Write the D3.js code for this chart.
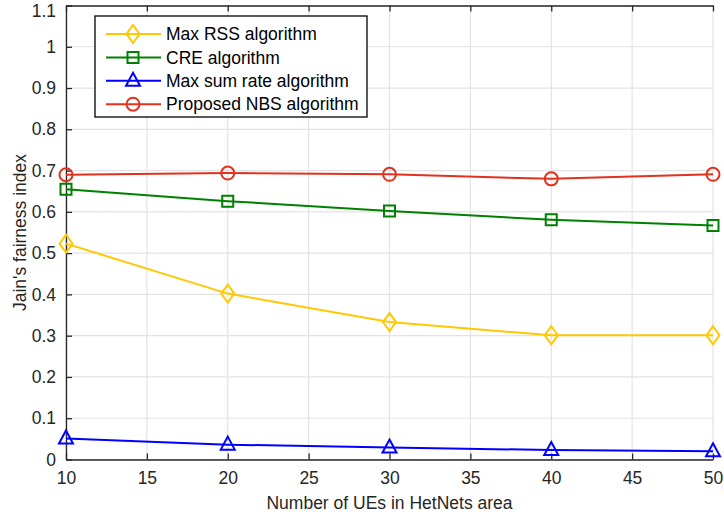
<!DOCTYPE html>
<html>
<head>
<meta charset="utf-8">
<script src="https://cdn.jsdelivr.net/npm/d3@7"></script>
<style>
  html, body { margin: 0; padding: 0; background: #fff; }
  svg { display: block; font-family: "Liberation Sans", Arial, Helvetica, sans-serif; }
</style>
</head>
<body>
<svg id="chart" width="724" height="521"></svg>
<script>
// Jain's fairness index versus number of UEs
const ues = [10, 20, 30, 40, 50];
const maxRss = [0.523, 0.402, 0.333, 0.301, 0.301];
const cre = [0.655, 0.626, 0.602, 0.581, 0.567];
const maxSumRate = [0.051, 0.036, 0.029, 0.023, 0.020];
const proposedNbs = [0.690, 0.694, 0.691, 0.680, 0.691];

const xTicks = [10, 15, 20, 25, 30, 35, 40, 45, 50];
const yTicks = [0, 0.1, 0.2, 0.3, 0.4, 0.5, 0.6, 0.7, 0.8, 0.9, 1, 1.1];

const seriesNames = ["Max RSS algorithm", "CRE algorithm", "Max sum rate algorithm", "Proposed NBS algorithm"];
const seriesColors = ["#FFC800", "#008000", "#0000FF", "#E2311D"];
const seriesMarkers = ["diamond", "square", "triangle", "circle"];
const seriesValues = [maxRss, cre, maxSumRate, proposedNbs];

const svg = d3.select("#chart");
const margin = { left: 66, right: 11, top: 5.5, bottom: 61.5 };
const W = 724, H = 521;
const x = d3.scaleLinear().domain([10, 50]).range([margin.left, W - margin.right]);
const y = d3.scaleLinear().domain([0, 1.1]).range([H - margin.bottom, margin.top]);

const axisColor = "#262626";
const gridColor = "#E3E3E3";
const fontSize = 17.5;

// grid
const grid = svg.append("g");
grid.selectAll(".gx").data(xTicks).join("line")
  .attr("x1", d => x(d)).attr("x2", d => x(d))
  .attr("y1", y(0)).attr("y2", y(1.1))
  .attr("stroke", gridColor).attr("stroke-width", 1.2);
grid.selectAll(".gy").data(yTicks).join("line")
  .attr("x1", x(10)).attr("x2", x(50))
  .attr("y1", d => y(d)).attr("y2", d => y(d))
  .attr("stroke", gridColor).attr("stroke-width", 1.2);

// axes with inward ticks on all four sides
const tickLen = 6;
const fmt = d => d3.format("~g")(d);
const xAxisB = d3.axisBottom(x).tickValues(xTicks).tickSizeInner(-tickLen).tickSizeOuter(0).tickPadding(12).tickFormat(fmt);
const xAxisT = d3.axisTop(x).tickValues(xTicks).tickSizeInner(-tickLen).tickSizeOuter(0).tickFormat("");
const yAxisL = d3.axisLeft(y).tickValues(yTicks).tickSizeInner(-tickLen).tickSizeOuter(0).tickPadding(10).tickFormat(fmt);
const yAxisR = d3.axisRight(y).tickValues(yTicks).tickSizeInner(-tickLen).tickSizeOuter(0).tickFormat("");

function styleAxis(g) {
  g.select(".domain").attr("stroke", axisColor).attr("stroke-width", 1.3);
  g.selectAll(".tick line").attr("stroke", axisColor).attr("stroke-width", 1.3);
  g.selectAll(".tick text").attr("fill", axisColor).attr("font-size", fontSize)
    .attr("font-family", "'Liberation Sans', Arial, sans-serif");
}
svg.append("g").attr("transform", `translate(0,${y(0)})`).call(xAxisB).call(styleAxis);
svg.append("g").attr("transform", `translate(0,${y(1.1)})`).call(xAxisT).call(styleAxis);
const yl = svg.append("g").attr("transform", `translate(${x(10)},0)`).call(yAxisL).call(styleAxis);
// keep the top tick label inside the canvas
yl.selectAll(".tick text").filter(d => d === 1.1).attr("dy", "0.62em");

// axis titles
svg.append("text")
  .attr("x", (x(10) + x(50)) / 2).attr("y", 509)
  .attr("text-anchor", "middle").attr("font-size", fontSize).attr("fill", axisColor)
  .text("Number of UEs in HetNets area");
svg.append("text")
  .attr("transform", `translate(26,${(y(0) + y(1.1)) / 2}) rotate(-90)`)
  .attr("text-anchor", "middle").attr("font-size", fontSize).attr("fill", axisColor)
  .text("Jain's fairness index");

// marker paths
function markerPath(type) {
  switch (type) {
    case "diamond": return "M0,-9L6.5,0L0,9L-6.5,0Z";
    case "square": return "M-5.5,-5.5H5.5V5.5H-5.5Z";
    case "triangle": return "M0,-8L7,5H-7Z";
    case "circle": return d3.symbol(d3.symbolCircle, Math.PI * 6.5 * 6.5)();
  }
}

const line = d3.line().x(d => x(d[0])).y(d => y(d[1]));
const plot = svg.append("g");
seriesValues.forEach((vals, i) => {
  const pts = ues.map((u, k) => [u, vals[k]]);
  plot.append("path").datum(pts)
    .attr("d", line).attr("fill", "none")
    .attr("stroke", seriesColors[i]).attr("stroke-width", 2);
  plot.selectAll(null).data(pts).join("path")
    .attr("transform", d => `translate(${x(d[0])},${y(d[1])})`)
    .attr("d", markerPath(seriesMarkers[i]))
    .attr("fill", "none").attr("stroke", seriesColors[i]).attr("stroke-width", 2);
});

// legend
const lg = svg.append("g").attr("transform", "translate(95,16)");
lg.append("rect").attr("width", 272).attr("height", 101)
  .attr("fill", "#fff").attr("stroke", "#000").attr("stroke-width", 1.3);
seriesNames.forEach((name, i) => {
  const cy = 18 + i * 23.4;
  lg.append("line").attr("x1", 11).attr("x2", 66).attr("y1", cy).attr("y2", cy)
    .attr("stroke", seriesColors[i]).attr("stroke-width", 2);
  lg.append("path").attr("transform", `translate(38,${cy})`)
    .attr("d", markerPath(seriesMarkers[i]))
    .attr("fill", "none").attr("stroke", seriesColors[i]).attr("stroke-width", 2);
  lg.append("text").attr("x", 71).attr("y", cy).attr("dy", "0.35em")
    .attr("font-size", fontSize).attr("fill", "#000").text(name);
});
</script>
</body>
</html>
